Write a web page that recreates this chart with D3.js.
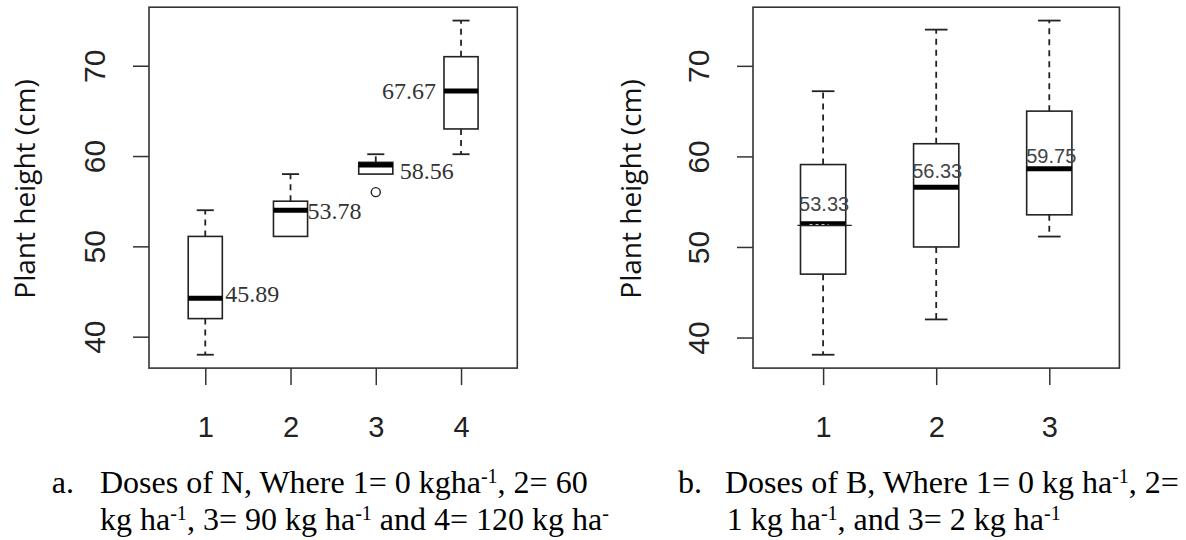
<!DOCTYPE html>
<html><head><meta charset="utf-8">
<script src="https://cdn.jsdelivr.net/npm/d3@7"></script>
<style>
html,body{margin:0;background:#fff}
svg{display:block}
</style></head><body>
<script>
// panel a: doses of N (five-number summaries)
const catsN = ["1", "2", "3", "4"];
const minN = [38, 51.1, 58, 60.2];
const q1N = [42, 51.1, 58, 63];
const medN = [44.25, 54, 59, 67.2];
const q3N = [51.1, 55, 59.3, 71];
const maxN = [54, 58, 60.2, 75];
const outN = [[], [], [56], []];
const labN = ["45.89", "53.78", "58.56", "67.67"];

// panel b: doses of B
const catsB = ["1", "2", "3"];
const minB = [38.1, 42, 51.15];
const q1B = [47, 50, 53.55];
const medB = [52.55, 56.6, 58.65];
const q3B = [59.1, 61.4, 65];
const maxB = [67.2, 74, 75];
const outB = [[], [], []];
const labB = ["53.33", "56.33", "59.75"];

const yTicks = [40, 50, 60, 70];
const yTitle = "Plant height (cm)";

(() => {
  const W = 1186, H = 540;
  const TOP = 7.2, BOT = 368.1;
  const SANS = '"Liberation Sans", Arial, sans-serif';
  const SERIF = '"Liberation Serif", "Times New Roman", serif';
  const INK = "#222";

  const svg = d3.select("body").append("svg").attr("width", W).attr("height", H);
  svg.append("rect").attr("width", W).attr("height", H).attr("fill", "#fff");

  // label placement: [reference edge, dx, dy from median, anchor]
  const labPosN = [["right", 3, 4, "start"], ["right", 0, 9, "start"], ["right", 7, 14, "start"], ["left", -8, 7.6, "end"]];
  const labPosB = [["center", 1, -13, "middle"], ["center", 1, -9, "middle"], ["center", 2, -6, "middle"]];

  const panels = [
    { cats: catsN, lo: minN, q1: q1N, med: medN, q3: q3N, hi: maxN, out: outN, lab: labN,
      x0: 149, x1: 517.3, titleX: 35, labFont: `24px ${SERIF}`, labFill: "#333", labPos: labPosN },
    { cats: catsB, lo: minB, q1: q1B, med: medB, q3: q3B, hi: maxB, out: outB, lab: labB,
      x0: 753, x1: 1119.4, titleX: 641, labFont: `20px ${SANS}`, labFill: "#444", labPos: labPosB, rough: true },
  ];

  panels.forEach(p => {
    const n = p.cats.length;
    // R-style 4% padding on both axes
    const lo = d3.min([...p.lo, ...p.out.flat()]), hi = d3.max(p.hi);
    const padY = (hi - lo) * 0.04;
    const y = d3.scaleLinear().domain([lo - padY, hi + padY]).range([BOT, TOP]);
    const padX = n * 0.04;
    const x = d3.scaleLinear().domain([0.5 - padX, n + 0.5 + padX]).range([p.x0, p.x1]);
    const bw = x(1.4) - x(1);

    const g = svg.append("g");

    // y axis: rotated tick labels like base R
    g.append("g")
      .attr("transform", `translate(${p.x0},0)`)
      .call(d3.axisLeft(y).tickValues(yTicks).tickSize(16).tickFormat(d3.format("d")))
      .call(a => a.select(".domain").remove())
      .call(a => a.selectAll("line").attr("stroke", "#333").attr("stroke-width", 1.5))
      .call(a => a.selectAll("text")
        .attr("x", null).attr("dy", null)
        .attr("text-anchor", "middle")
        .attr("transform", "translate(-44,0) rotate(-90)")
        .attr("fill", INK)
        .style("font", `30px ${SANS}`));

    // x axis
    g.append("g")
      .attr("transform", `translate(0,${BOT})`)
      .call(d3.axisBottom(x).tickValues(d3.range(1, n + 1)).tickSize(17).tickFormat(i => p.cats[i - 1]))
      .call(a => a.select(".domain").remove())
      .call(a => a.selectAll("line").attr("stroke", "#333").attr("stroke-width", 1.5))
      .call(a => a.selectAll("text")
        .attr("y", 68.5).attr("dy", null)
        .attr("fill", INK)
        .style("font", `29px ${SANS}`));

    // frame
    g.append("rect")
      .attr("x", p.x0).attr("y", TOP)
      .attr("width", p.x1 - p.x0).attr("height", BOT - TOP)
      .attr("fill", "none").attr("stroke", "#333").attr("stroke-width", 1.6);

    // y title
    g.append("text")
      .attr("transform", `translate(${p.titleX},189) rotate(-90)`)
      .attr("text-anchor", "middle")
      .attr("fill", "#111")
      .style("font", '28px "Open Sans", "Noto Sans", sans-serif')
      .text(yTitle);

    p.cats.forEach((c, i) => {
      const cx = x(i + 1);
      const bx = cx - bw / 2;
      const bg = g.append("g");

      // whiskers (dashed) + staples
      [[p.q3[i], p.hi[i]], [p.q1[i], p.lo[i]]].forEach(([from, to]) => {
        if (Math.abs(from - to) < 0.05) return;
        bg.append("line")
          .attr("x1", cx).attr("x2", cx).attr("y1", y(from)).attr("y2", y(to))
          .attr("stroke", INK).attr("stroke-width", 1.8).attr("stroke-dasharray", "6,5");
        bg.append("line")
          .attr("x1", cx - bw / 4).attr("x2", cx + bw / 4).attr("y1", y(to)).attr("y2", y(to))
          .attr("stroke", INK).attr("stroke-width", 1.8);
      });

      bg.append("rect")
        .attr("x", bx).attr("y", y(p.q3[i]))
        .attr("width", bw).attr("height", y(p.q1[i]) - y(p.q3[i]))
        .attr("fill", "#fff").attr("stroke", INK).attr("stroke-width", 1.6);

      bg.append("line")
        .attr("x1", bx).attr("x2", bx + bw).attr("y1", y(p.med[i])).attr("y2", y(p.med[i]))
        .attr("stroke", "#000").attr("stroke-width", 5);

      // scanned-in texture on the first median of panel b
      if (p.rough && i === 0) {
        bg.append("line")
          .attr("x1", bx + bw * 0.2).attr("x2", bx + bw * 0.62)
          .attr("y1", y(p.med[i]) + 0.6).attr("y2", y(p.med[i]) + 0.6)
          .attr("stroke", "#fff").attr("stroke-width", 1).attr("stroke-dasharray", "3,3");
        bg.append("line")
          .attr("x1", bx - 3).attr("x2", bx + bw + 6)
          .attr("y1", y(p.med[i]) + 1.5).attr("y2", y(p.med[i]) + 1.5)
          .attr("stroke", INK).attr("stroke-width", 1.2);
      }

      p.out[i].forEach(v => {
        bg.append("circle")
          .attr("cx", cx).attr("cy", y(v)).attr("r", 4.5)
          .attr("fill", "none").attr("stroke", INK).attr("stroke-width", 1.4);
      });

      const [ref, dx, dy, anchor] = p.labPos[i];
      const lx = ref === "right" ? bx + bw : ref === "left" ? bx : cx;
      bg.append("text")
        .attr("x", lx + dx).attr("y", y(p.med[i]) + dy)
        .attr("text-anchor", anchor)
        .attr("fill", p.labFill)
        .style("font", p.labFont)
        .text(p.lab[i]);
    });
  });

  // captions (Word-style text under each plot)
  const CAP = 32, SUP = 20, RAISE = 10;
  const caption = (x, yb, parts) => {
    const t = svg.append("text").attr("x", x).attr("y", yb)
      .attr("fill", "#000").style("font", `${CAP}px ${SERIF}`);
    let up = false;
    parts.forEach(s => {
      const sp = t.append("tspan");
      if (typeof s === "string") {
        if (up) sp.attr("dy", RAISE);
        sp.text(s);
        up = false;
      } else {
        sp.attr("dy", -RAISE).style("font-size", SUP + "px").text(s.sup);
        up = true;
      }
    });
  };
  const mark = (x, yb, s) => svg.append("text").attr("x", x).attr("y", yb)
    .attr("fill", "#000").style("font", `${CAP}px ${SERIF}`).text(s);

  mark(51.7, 493, "a.");
  caption(100, 493, ["Doses of N, Where 1= 0 kgha", { sup: "-1" }, ", 2= 60"]);
  caption(100, 530, ["kg ha", { sup: "-1" }, ", 3= 90 kg ha", { sup: "-1" }, " and 4= 120 kg ha", { sup: "-" }]);

  mark(678, 493, "b.");
  caption(725, 493, ["Doses of B, Where 1= 0 kg ha", { sup: "-1" }, ", 2="]);
  caption(726.7, 530, ["1 kg ha", { sup: "-1" }, ", and 3= 2 kg ha", { sup: "-1" }]);
})();
</script>
</body></html>
